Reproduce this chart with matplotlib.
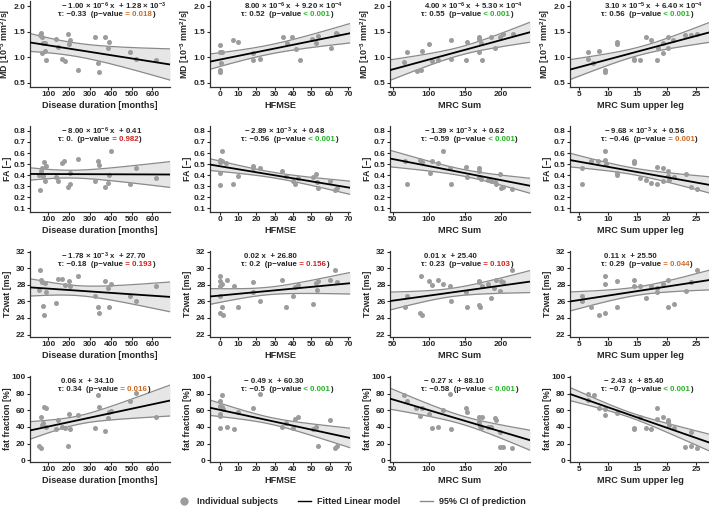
import matplotlib
matplotlib.use("Agg")
import matplotlib.pyplot as plt
import numpy as np
from matplotlib.lines import Line2D

plt.rcParams['font.family'] = ['Liberation Sans', 'DejaVu Sans']
plt.rcParams['font.weight'] = 'bold'
plt.rcParams['mathtext.fontset'] = 'custom'
plt.rcParams['mathtext.rm'] = 'Liberation Sans:bold'
plt.rcParams['mathtext.default'] = 'regular'

# ---------------- data ----------------
# Row 1: MD [10^-3 mm^2/s]
md_dur_x = [58, 66, 69, 74, 82, 71, 82, 90, 138, 146, 167, 178, 195, 202, 200, 243, 326, 339, 344, 371, 385, 393, 494, 522, 618]
md_dur_y = [1.44, 1.47, 1.40, 1.28, 1.28, 1.08, 1.12, 0.95, 1.36, 1.20, 0.97, 0.92, 1.46, 1.34, 1.26, 0.75, 1.40, 0.89, 0.72, 1.39, 1.18, 1.29, 1.10, 0.97, 0.94]
md_hfm_x = [0, 0, 0, 0, 1.2, 0.6, 7.5, 9.7, 18, 18.3, 22, 34.4, 36.8, 39.5, 41.7, 43.6, 50.5, 52.7, 53.6, 60.6, 63.1, 63.7]
md_hfm_y = [1.25, 1.10, 0.75, 0.71, 1.10, 0.89, 1.34, 1.29, 0.95, 1.08, 0.97, 1.40, 1.28, 1.40, 1.17, 0.94, 1.36, 1.28, 1.42, 1.19, 1.47, 1.45]
md_mrc_x = [65.5, 70, 83, 89, 90, 100, 104, 113, 131, 130, 151, 153, 169, 170, 172, 169, 174, 186, 192, 199, 203, 217]
md_mrc_y = [0.90, 1.10, 0.73, 0.75, 1.12, 1.26, 0.92, 0.95, 1.34, 0.97, 0.94, 1.29, 1.40, 1.36, 1.28, 1.10, 0.94, 1.40, 1.19, 1.40, 1.45, 1.46]
md_leg_x = [6.5, 6.6, 7.5, 8.5, 9.5, 9.5, 11.5, 11.5, 14.4, 14.5, 15.4, 16.4, 17.3, 18.3, 18.5, 19.3, 19.3, 20.2, 20.2, 21.1, 23.2, 24.1, 25.1]
md_leg_y = [1.10, 0.97, 0.89, 1.12, 0.75, 0.72, 1.29, 1.26, 0.94, 0.97, 0.94, 1.40, 1.34, 0.95, 1.19, 1.08, 1.28, 1.40, 1.18, 1.34, 1.44, 1.44, 1.46]

# Row 2: FA [-]
fa_dur_x = [55, 63, 68, 58, 74, 79, 82, 90, 135, 146, 167, 175, 195, 202, 202, 243, 326, 339, 344, 371, 385, 393, 403, 494, 522, 618]
fa_dur_y = [0.40, 0.436, 0.46, 0.264, 0.394, 0.52, 0.345, 0.485, 0.38, 0.345, 0.51, 0.527, 0.294, 0.42, 0.32, 0.545, 0.35, 0.527, 0.49, 0.294, 0.325, 0.40, 0.62, 0.318, 0.467, 0.37]
fa_hfm_x = [0, 0, 0, 0, 1.5, 1.0, 3.3, 7.5, 9.7, 18, 18.3, 22, 34, 36, 39.9, 40.8, 42.6, 50.9, 52.7, 53, 53.6, 60, 62.8, 63.7]
fa_hfm_y = [0.536, 0.515, 0.42, 0.31, 0.62, 0.53, 0.51, 0.32, 0.394, 0.48, 0.467, 0.467, 0.436, 0.394, 0.35, 0.318, 0.376, 0.38, 0.41, 0.34, 0.285, 0.345, 0.264, 0.285]
fa_mrc_x = [67, 70, 88, 90, 104, 101, 113, 120, 129, 131, 151, 153, 169, 169, 170, 172, 182, 186, 191, 193, 199, 200, 203, 215]
fa_mrc_y = [0.527, 0.315, 0.54, 0.52, 0.527, 0.42, 0.51, 0.62, 0.467, 0.318, 0.476, 0.385, 0.467, 0.436, 0.38, 0.365, 0.355, 0.345, 0.333, 0.318, 0.406, 0.285, 0.294, 0.27]
fa_leg_x = [5.6, 5.6, 7.1, 8.3, 9.5, 9.5, 9.7, 11.5, 11.5, 14.4, 14.5, 15.4, 16.4, 17.3, 18.3, 18.3, 19.3, 19.3, 20.3, 20.3, 20.4, 21.2, 23.3, 24.2, 25.1]
fa_leg_y = [0.467, 0.315, 0.527, 0.527, 0.62, 0.54, 0.497, 0.42, 0.40, 0.527, 0.51, 0.376, 0.355, 0.325, 0.476, 0.318, 0.467, 0.345, 0.436, 0.394, 0.355, 0.385, 0.406, 0.294, 0.273]

# Row 3: T2wat [ms]
t2_dur_x = [58, 63, 69, 74, 79, 82, 87, 55, 135, 146, 167, 179, 199, 202, 243, 326, 339, 345, 371, 385, 393, 403, 494, 522, 618]
t2_dur_y = [29.8, 28.6, 28.4, 25.4, 24.4, 28.2, 27.1, 27.4, 25.8, 28.7, 28.7, 28.0, 28.5, 27.9, 29.1, 26.6, 25.3, 24.6, 28.5, 27.6, 25.3, 28.1, 26.7, 26.0, 27.9]
t2_hfm_x = [0, 0, 0, 0, 0, 1.1, 1.5, 2, 3.7, 7.9, 9.7, 18, 18.3, 22, 34, 36, 40, 40.8, 42.6, 50.9, 52.7, 53, 53.6, 60, 62.8, 63.7]
t2_hfm_y = [29.1, 28.5, 27.9, 26.6, 24.6, 25.3, 28.1, 24.4, 28.6, 27.9, 25.3, 28.3, 27.1, 26.1, 28.6, 25.3, 26.6, 27.8, 28.0, 25.7, 28.2, 27.4, 28.5, 28.6, 29.8, 28.4]
t2_mrc_x = [67, 70, 88, 90, 89, 100, 104, 113, 119, 129, 130, 151, 153, 169, 169, 170, 171, 174, 182, 186, 190, 193, 199, 200, 203, 215]
t2_mrc_y = [25.3, 26.7, 24.6, 24.4, 29.1, 28.5, 28.0, 28.6, 28.1, 27.9, 26.0, 27.1, 25.3, 28.5, 28.3, 25.6, 25.3, 27.9, 28.1, 26.4, 27.6, 28.6, 27.3, 28.5, 28.4, 29.8]
t2_leg_x = [5.6, 5.6, 7.0, 8.4, 9.5, 9.5, 9.5, 11.5, 11.5, 14.4, 14.5, 15.4, 16.4, 17.3, 18.3, 18.3, 19.3, 20.3, 20.3, 21.2, 23.3, 24.2, 25.1]
t2_leg_y = [26.7, 26.1, 25.3, 24.4, 29.1, 28.1, 24.6, 28.5, 25.3, 28.6, 27.9, 27.9, 26.4, 27.9, 27.1, 27.6, 28.1, 28.6, 25.3, 25.7, 27.3, 28.4, 29.8]

# Row 4: fat fraction [%]
ff_dur_x = [55, 63, 66, 69, 74, 79, 87, 90, 135, 146, 167, 178, 195, 199, 202, 243, 326, 339, 345, 371, 385, 393, 403, 494, 522, 618]
ff_dur_y = [17.1, 14.4, 52.1, 42.8, 44.4, 64.2, 62.3, 39.7, 37.7, 48.6, 40.5, 38.5, 17.1, 56.0, 37.7, 54.5, 38.9, 78.6, 63.8, 35.0, 50.6, 58.4, 59.1, 71.6, 80.5, 52.1]
ff_hfm_x = [0, 0, 0, 0, 0, 1, 1.5, 2, 3.7, 7.9, 9.7, 18, 22, 34, 36, 40, 40.8, 42.6, 50.9, 52.7, 53.6, 60, 62.8, 63.7]
ff_hfm_y = [70.8, 65.0, 55.3, 53.3, 38.9, 77.8, 63.8, 61.0, 39.7, 37.7, 58.4, 62.3, 79.4, 40.5, 44.4, 38.9, 49.4, 52.1, 37.7, 39.7, 17.1, 48.2, 14.4, 17.1]
ff_mrc_x = [66, 69, 82, 88, 90, 100, 104, 113, 119, 129, 131, 151, 153, 169, 170, 171, 172, 174, 182, 186, 191, 193, 199, 199, 203, 215]
ff_mrc_y = [78.6, 70.8, 63.0, 53.3, 63.0, 56.0, 38.9, 39.7, 59.9, 79.4, 37.0, 62.3, 58.4, 52.1, 45.5, 41.6, 38.9, 52.1, 40.5, 39.7, 50.6, 48.6, 33.9, 16.3, 16.3, 14.4]
ff_leg_x = [6.6, 6.6, 7.6, 8.5, 9.5, 9.5, 11.5, 14.4, 14.5, 15.4, 16.4, 17.3, 18.3, 18.3, 19.3, 20.3, 20.3, 20.4, 21.2, 23.2, 24.2, 24.2, 25.1]
ff_leg_y = [79.4, 72.8, 78.6, 63.0, 61.0, 54.5, 57.2, 38.9, 37.7, 52.1, 38.9, 37.7, 62.3, 49.4, 52.1, 48.2, 45.5, 42.8, 38.9, 16.3, 33.9, 17.1, 14.4]

# fitted line at left / right edge, CI half-width at left, right and minimum
md_fits = [(1.29, 0.86, 0.175, 0.305, 0.13), (0.916, 1.47, 0.15, 0.19, 0.09),
           (0.75, 1.49, 0.20, 0.195, 0.08), (0.76, 1.49, 0.195, 0.195, 0.08)]
fa_fits = [(0.41, 0.405, 0.056, 0.117, 0.035), (0.495, 0.285, 0.053, 0.06, 0.025),
           (0.55, 0.303, 0.075, 0.068, 0.03), (0.536, 0.31, 0.062, 0.074, 0.03)]
t2_fits = [(27.7, 26.55, 1.05, 1.8, 0.6), (26.6, 28.2, 0.95, 1.3, 0.45),
           (26.05, 28.4, 1.08, 1.33, 0.5), (26.0, 28.6, 1.15, 1.2, 0.5)]
ff_fits = [(35.8, 71.6, 10.5, 18.5, 5.0), (63.0, 26.8, 9.2, 11.7, 4.0),
           (73.9, 24.1, 12.6, 12.0, 5.0), (79.4, 21.0, 7.8, 10.1, 3.0)]

md_eqs = [r"− 1.00 × 10$^{-6}$ x  + 1.28 × 10$^{-3}$", r"8.00 × 10$^{-6}$ x  + 9.20 × 10$^{-4}$",
          r"4.00 × 10$^{-6}$ x  + 5.30 × 10$^{-4}$", r"3.10 × 10$^{-5}$ x  + 6.40 × 10$^{-4}$"]
fa_eqs = [r"− 8.00 × 10$^{-6}$ x  + 0.41", r"− 2.89 × 10$^{-3}$ x  + 0.48",
          r"− 1.39 × 10$^{-3}$ x  + 0.62", r"− 9.68 × 10$^{-3}$ x  + 0.56"]
t2_eqs = [r"− 1.78 × 10$^{-3}$ x  + 27.70", "0.02 x  + 26.80", "0.01 x  + 25.40", "0.11 x  + 25.50"]
ff_eqs = ["0.06 x  + 34.10", "− 0.49 x  + 60.30", "− 0.27 x  + 88.10", "− 2.43 x  + 85.40"]

md_tau = ["−0.33", "0.52", "0.55", "0.56"]
fa_tau = ["0.", "−0.56", "−0.59", "−0.46"]
t2_tau = ["−0.18", "0.2", "0.23", "0.29"]
ff_tau = ["0.34", "−0.5", "−0.58", "−0.7"]

md_p = ["= 0.018", "< 0.001", "< 0.001", "< 0.001"]
fa_p = ["= 0.982", "< 0.001", "< 0.001", "= 0.001"]
t2_p = ["= 0.193", "= 0.156", "= 0.103", "= 0.044"]
ff_p = ["= 0.016", "< 0.001", "< 0.001", "< 0.001"]

x_labels = ["Disease duration [months]", "HFMSE", "MRC Sum", "MRC Sum upper leg"]
y_labels = [r"MD [10$^{-3}$ mm$^{2}$/s]", "FA [−]", "T2wat [ms]", "fat fraction [%]"]
x_ticks = [[100, 200, 300, 400, 500, 600], [0, 10, 20, 30, 40, 50, 60, 70], [50, 100, 150, 200], [5, 10, 15, 20, 25]]
y_ticks = [[0.5, 1.0, 1.5, 2.0], [0.1, 0.2, 0.3, 0.4, 0.5, 0.6, 0.7, 0.8], [22, 24, 26, 28, 30, 32], [0, 20, 40, 60, 80, 100]]
legend_labels = ["Individual subjects", "Fitted Linear model", "95% CI of prediction"]

# ---------------- layout / style ----------------
W, H = 709, 508
x_lims = [(12, 685), (-5.3, 71), (46, 240), (3.5, 27.4)]
y_lims = [(0.42, 2.1), (0.065, 0.845), (21.7, 32.1), (-2, 101)]
col_left = [30, 210, 390, 570]
row_top = [1, 126, 251, 376]
ax_w, ax_h = 140, 86
txt_x = [0.20, 0.22, 0.22, 0.22]

TXT = '#262626'
GREEN, ORANGE, RED = '#22b322', '#cc6a22', '#cc2222'


def p_color(s, tag):
    if s.startswith('<'):
        return GREEN
    return ORANGE if tag == 'o' else RED


p_tags = [['o', 'g', 'g', 'g'], ['r', 'g', 'g', 'o'], ['r', 'r', 'r', 'o'], ['o', 'g', 'g', 'g']]

rows = [
    ([(md_dur_x, md_dur_y), (md_hfm_x, md_hfm_y), (md_mrc_x, md_mrc_y), (md_leg_x, md_leg_y)], md_fits, md_eqs, md_tau, md_p),
    ([(fa_dur_x, fa_dur_y), (fa_hfm_x, fa_hfm_y), (fa_mrc_x, fa_mrc_y), (fa_leg_x, fa_leg_y)], fa_fits, fa_eqs, fa_tau, fa_p),
    ([(t2_dur_x, t2_dur_y), (t2_hfm_x, t2_hfm_y), (t2_mrc_x, t2_mrc_y), (t2_leg_x, t2_leg_y)], t2_fits, t2_eqs, t2_tau, t2_p),
    ([(ff_dur_x, ff_dur_y), (ff_hfm_x, ff_hfm_y), (ff_mrc_x, ff_mrc_y), (ff_leg_x, ff_leg_y)], ff_fits, ff_eqs, ff_tau, ff_p),
]

fig = plt.figure(figsize=(W / 100, H / 100), dpi=100)


def band_halfwidth(x, xl, xr, hwl, hwr, h0):
    a = np.sqrt(max(hwl ** 2 - h0 ** 2, 1e-12))
    b = np.sqrt(max(hwr ** 2 - h0 ** 2, 1e-12))
    xc = (xl * b + xr * a) / (a + b)
    k = (a / (xc - xl)) ** 2
    return np.sqrt(h0 ** 2 + k * (x - xc) ** 2)


fmt_y = [lambda v: f"{v:.1f}", lambda v: f"{v:.1f}", lambda v: f"{v:g}", lambda v: f"{v:g}"]

for r, (pts, fits, eqs, taus, ps) in enumerate(rows):
    for c in range(4):
        left = col_left[c] / W
        bottom = 1 - (row_top[r] + ax_h) / H
        ax = fig.add_axes([left, bottom, ax_w / W, ax_h / H])
        xl, xr = x_lims[c]
        yl0, yr0, hwl, hwr, h0 = fits[c]
        xs = np.linspace(xl, xr, 200)
        yfit = yl0 + (yr0 - yl0) * (xs - xl) / (xr - xl)
        hw = band_halfwidth(xs, xl, xr, hwl, hwr, h0)
        ax.fill_between(xs, yfit - hw, yfit + hw, color='#e6e6e6', lw=0, zorder=1)
        ax.plot(xs, yfit + hw, color='#8a8a8a', lw=0.9, zorder=2)
        ax.plot(xs, yfit - hw, color='#8a8a8a', lw=0.9, zorder=2)
        px, py = pts[c]
        ax.scatter(px, py, s=13, color='#9c9c9c', lw=0, zorder=3)
        ax.plot(xs, yfit, color='black', lw=1.3, zorder=4)

        ax.set_xlim(xl, xr)
        ax.set_ylim(*y_lims[r])
        ax.set_xticks(x_ticks[c])
        ax.set_yticks(y_ticks[r])
        ax.set_yticklabels([fmt_y[r](v) for v in y_ticks[r]])
        for s in ['top', 'right']:
            ax.spines[s].set_visible(False)
        for s in ['left', 'bottom']:
            ax.spines[s].set_color('#333333')
            ax.spines[s].set_linewidth(0.9)
        ax.tick_params(axis='both', length=2, width=0.8, pad=1.2, labelsize=6,
                       colors=TXT, direction='out')
        for lab in ax.get_xticklabels() + ax.get_yticklabels():
            lab.set_fontweight('bold')
        ax.set_xlabel(x_labels[c], fontsize=6.6, fontweight='bold', color=TXT, labelpad=2)
        ax.set_ylabel(y_labels[r], fontsize=6.4, fontweight='bold', color=TXT)
        ax.yaxis.set_label_coords(-17.5 / ax_w, 0.5)

        tx = txt_x[c]
        fs = 5.7
        ax.text(tx + 0.02, 0.94, eqs[c], transform=ax.transAxes, ha='left', va='center',
                fontsize=fs, fontweight='bold', color=TXT, zorder=5)
        t1 = ax.text(tx, 0.80, f"τ: {taus[c]}  (p−value", transform=ax.transAxes, ha='left',
                     va='bottom', fontsize=fs, fontweight='bold', color=TXT, zorder=5)
        t2 = ax.annotate(" " + ps[c], xy=(1, 0), xycoords=t1, ha='left', va='bottom',
                         fontsize=fs, fontweight='bold', color=p_color(ps[c], p_tags[r][c]), zorder=5)
        ax.annotate(")", xy=(1, 0), xycoords=t2, ha='left', va='bottom',
                    fontsize=fs, fontweight='bold', color=TXT, zorder=5)

handles = [Line2D([], [], marker='o', ls='none', color='#9c9c9c', markersize=5),
           Line2D([], [], color='black', lw=1.0),
           Line2D([], [], color='#8a8a8a', lw=1.0)]
leg = fig.legend(handles, legend_labels, loc='center', bbox_to_anchor=(352 / W, 1 - 502 / H),
                 ncol=3, frameon=False, fontsize=6.5, handlelength=1.4, columnspacing=2.2,
                 handletextpad=0.7)
for t in leg.get_texts():
    t.set_fontweight('bold')
    t.set_color(TXT)

fig.savefig("out.png", dpi=100)
